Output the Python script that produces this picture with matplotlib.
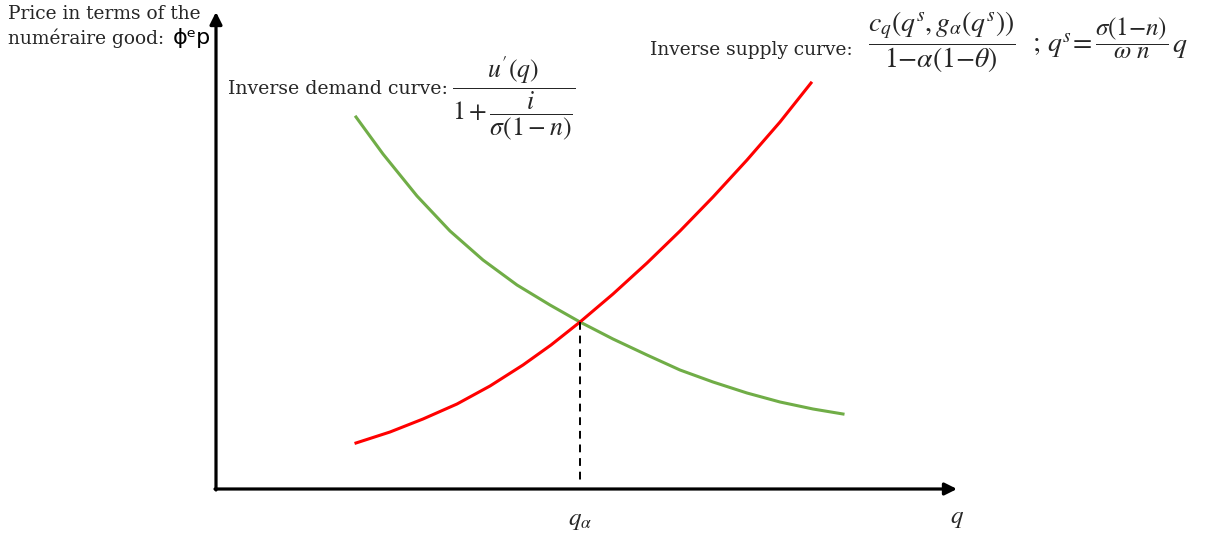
import matplotlib.pyplot as plt

# mathtext close to Cambria Math, body text serif
plt.rcParams['mathtext.fontset'] = 'stix'
plt.rcParams['font.family'] = ['DejaVu Serif']

# curve points (origin = axis corner, units ~ pixels)
demand_q = [140, 167, 201, 234, 267, 301, 334, 364, 397, 431, 464, 497, 531, 564, 597, 627]
demand_p = [372, 335, 293, 258, 229, 204, 184, 167, 150, 134, 119, 107, 96, 87, 80, 75]
supply_q = [140, 174, 207, 241, 274, 307, 335, 364, 397, 431, 464, 497, 531, 564, 595]
supply_p = [46, 57, 70, 85, 103, 124, 144, 167, 195, 226, 258, 292, 329, 367, 406]

q_eq = 364
p_eq = 167
x_end = 741
y_end = 477

txt = '#262626'

fig = plt.figure(figsize=(12.14, 5.38), dpi=100)
ax = fig.add_axes([0, 0, 1, 1])
ax.set_xlim(-216, 998)
ax.set_ylim(-49, 489)
ax.axis('off')

# axes with arrow heads
arrow = dict(arrowstyle='-|>', lw=2.3, color='black', mutation_scale=18,
             shrinkA=0, shrinkB=0)
ax.annotate('', xy=(x_end, 0), xytext=(-1, 0), arrowprops=arrow)
ax.annotate('', xy=(0, y_end), xytext=(0, -1), arrowprops=arrow)

# curves
ax.plot(demand_q, demand_p, color='#70AD47', lw=2.2, solid_joinstyle='round')
ax.plot(supply_q, supply_p, color='#FF0000', lw=2.2, solid_joinstyle='round')

# equilibrium drop line
ax.plot([q_eq, q_eq], [p_eq, 4], color='black', lw=1.4, ls=(0, (4, 3)))

# y axis label
ax.text(-208, 470, 'Price in terms of the', ha='left', va='baseline',
        fontsize=13.4, color=txt)
ax.text(-208, 445, 'numéraire good:', ha='left', va='baseline',
        fontsize=13.4, color=txt)
ax.text(-43, 445, 'ϕ\u1d49p', family='DejaVu Sans', fontsize=16,
        ha='left', va='baseline', color='black')

# demand label
ax.text(12, 395, 'Inverse demand curve:', ha='left', va='baseline',
        fontsize=13.6, color=txt)
ax.text(236, 395, r"$\dfrac{u'(q)}{1+\dfrac{i}{\sigma(1-n)}}$",
        ha='left', va='baseline', fontsize=18.5, color=txt)

# supply label
ax.text(434, 434, 'Inverse supply curve:', ha='left', va='baseline',
        fontsize=13.4, color=txt)
ax.text(652, 439, r"$\dfrac{c_q(q^s, g_\alpha(q^s))}{1{-}\alpha(1{-}\theta)}$",
        ha='left', va='baseline', fontsize=20, color=txt)
ax.text(816, 437, r"$;\, q^s\!=$", ha='left', va='baseline', fontsize=20,
        color=txt)
ax.text(879, 439, r"$\dfrac{\sigma(1{-}n)}{\omega\ n}$", ha='left',
        va='baseline', fontsize=18, color=txt)
ax.text(956, 437, r"$q$", ha='left', va='baseline', fontsize=20, color=txt)

# axis tick labels
ax.text(q_eq, -31, r'$q_\alpha$', ha='center', va='center', fontsize=18,
        color=txt)
ax.text(x_end, -29, r'$q$', ha='center', va='center', fontsize=18,
        color=txt)

fig.savefig('out.png', dpi=100, facecolor='white')
